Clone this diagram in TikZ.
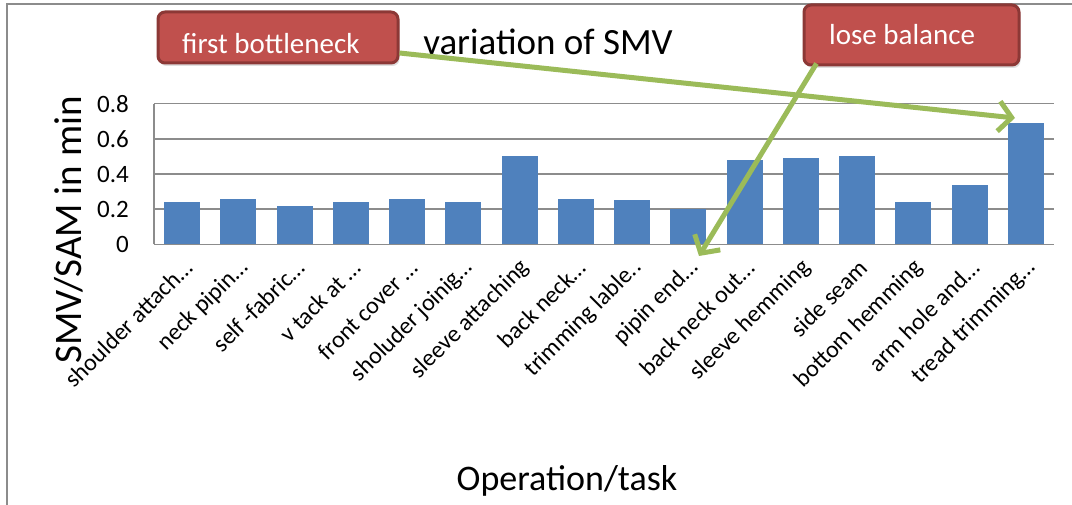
\documentclass[tikz,border=0pt]{standalone}
\usepackage{fontspec}
\setmainfont{Carlito}
\usetikzlibrary{arrows.meta,shadows}
\definecolor{barblue}{HTML}{4F81BD}
\definecolor{gridgray}{HTML}{8C8C8C}
\definecolor{callred}{HTML}{C0504D}
\definecolor{calledge}{HTML}{8C3836}
\definecolor{arrgreen}{HTML}{9BBB59}
\tikzset{
  gridln/.style={draw=gridgray, line width=1.6pt},
  barbox/.style={fill=barblue},
  ticklbl/.style={anchor=east, font=\fontsize{25}{27}\selectfont, inner sep=0pt},
  catlbl/.style={anchor=east, rotate=45, font=\fontsize{24}{26}\selectfont, inner sep=0pt},
  calloutbox/.style={draw=calledge, line width=3pt, fill=callred, rounded corners=7pt, inner sep=0pt,
    drop shadow={opacity=0.25, shadow xshift=1.5pt, shadow yshift=-3pt}},
  callouttext/.style={anchor=base west, text=white, font=\fontsize{29}{31}\selectfont, inner sep=0pt},
  greenarrow/.style={draw=arrgreen, line width=5pt, -{Straight Barb[length=13pt,width=30pt]}},
}
\begin{document}
\begin{tikzpicture}[x=1pt,y=-1pt]
\useasboundingbox (0,0) rectangle (1072,505);
% frame
\draw[gridgray, line width=1.5pt] (7,505) -- (7,4) -- (1072,4);
% gridlines
\foreach \v/\l in {0/0,0.2/0.2,0.4/0.4,0.6/0.6,0.8/0.8}{
  \draw[gridln] (154,244.5-\v*176) -- (1054,244.5-\v*176);
  \node[ticklbl] (tick\l) at (129,244.5-\v*176) {\l};
}
\draw[gridln] (154,244.5) -- (154,103.7);
% bars and labels
\foreach \i/\v/\t in {
  1/0.24/{shoulder attach…},
  2/0.26/{neck pipin…},
  3/0.22/{self -fabric…},
  4/0.24/{v tack at …},
  5/0.26/{front cover …},
  6/0.24/{sholuder joinig…},
  7/0.50/{sleeve attaching},
  8/0.26/{back neck…},
  9/0.25/{trimming lable..},
  10/0.20/{pipin end…},
  11/0.48/{back neck out…},
  12/0.49/{sleeve hemming},
  13/0.50/{side seam},
  14/0.24/{bottom hemming},
  15/0.34/{arm hole and…},
  16/0.69/{tread trimming…}}{
  \pgfmathsetmacro{\cx}{154+56.25*(\i-0.5)}
  \fill[barbox] (\cx-18,244.5) rectangle (\cx+18,244.5-\v*176);
  \node[catlbl] (cat\i) at (\cx+6,264) {\t};
}
% titles
\node[font=\fontsize{37}{39}\selectfont, inner sep=0pt, anchor=base] (title) at (548,55) {variation of SMV};
\node[font=\fontsize{39}{41}\selectfont, rotate=90, inner sep=0pt, anchor=base] (ytitle) at (81,230) {SMV/SAM in min};
\node[font=\fontsize{36}{38}\selectfont, inner sep=0pt, anchor=base] (xtitle) at (567,490) {Operation/task};
% callouts
\node[calloutbox, minimum width=240pt, minimum height=51pt] (fb) at (278,37.5) {};
\node[callouttext] (fbt) at (182,54) {first bottleneck};
\node[calloutbox, minimum width=215pt, minimum height=60pt] (lb) at (911.5,35) {};
\node[callouttext] (lbt) at (829,45) {lose balance};
% arrows
\coordinate (tgt1) at (1015,118);
\coordinate (tgt2) at (699,256);
\draw[greenarrow] ([yshift=-15.5pt]fb.east) -- (tgt1);
\draw[greenarrow] ([xshift=14pt,yshift=3pt]lb.south west) -- (tgt2);
\end{tikzpicture}
\end{document}
